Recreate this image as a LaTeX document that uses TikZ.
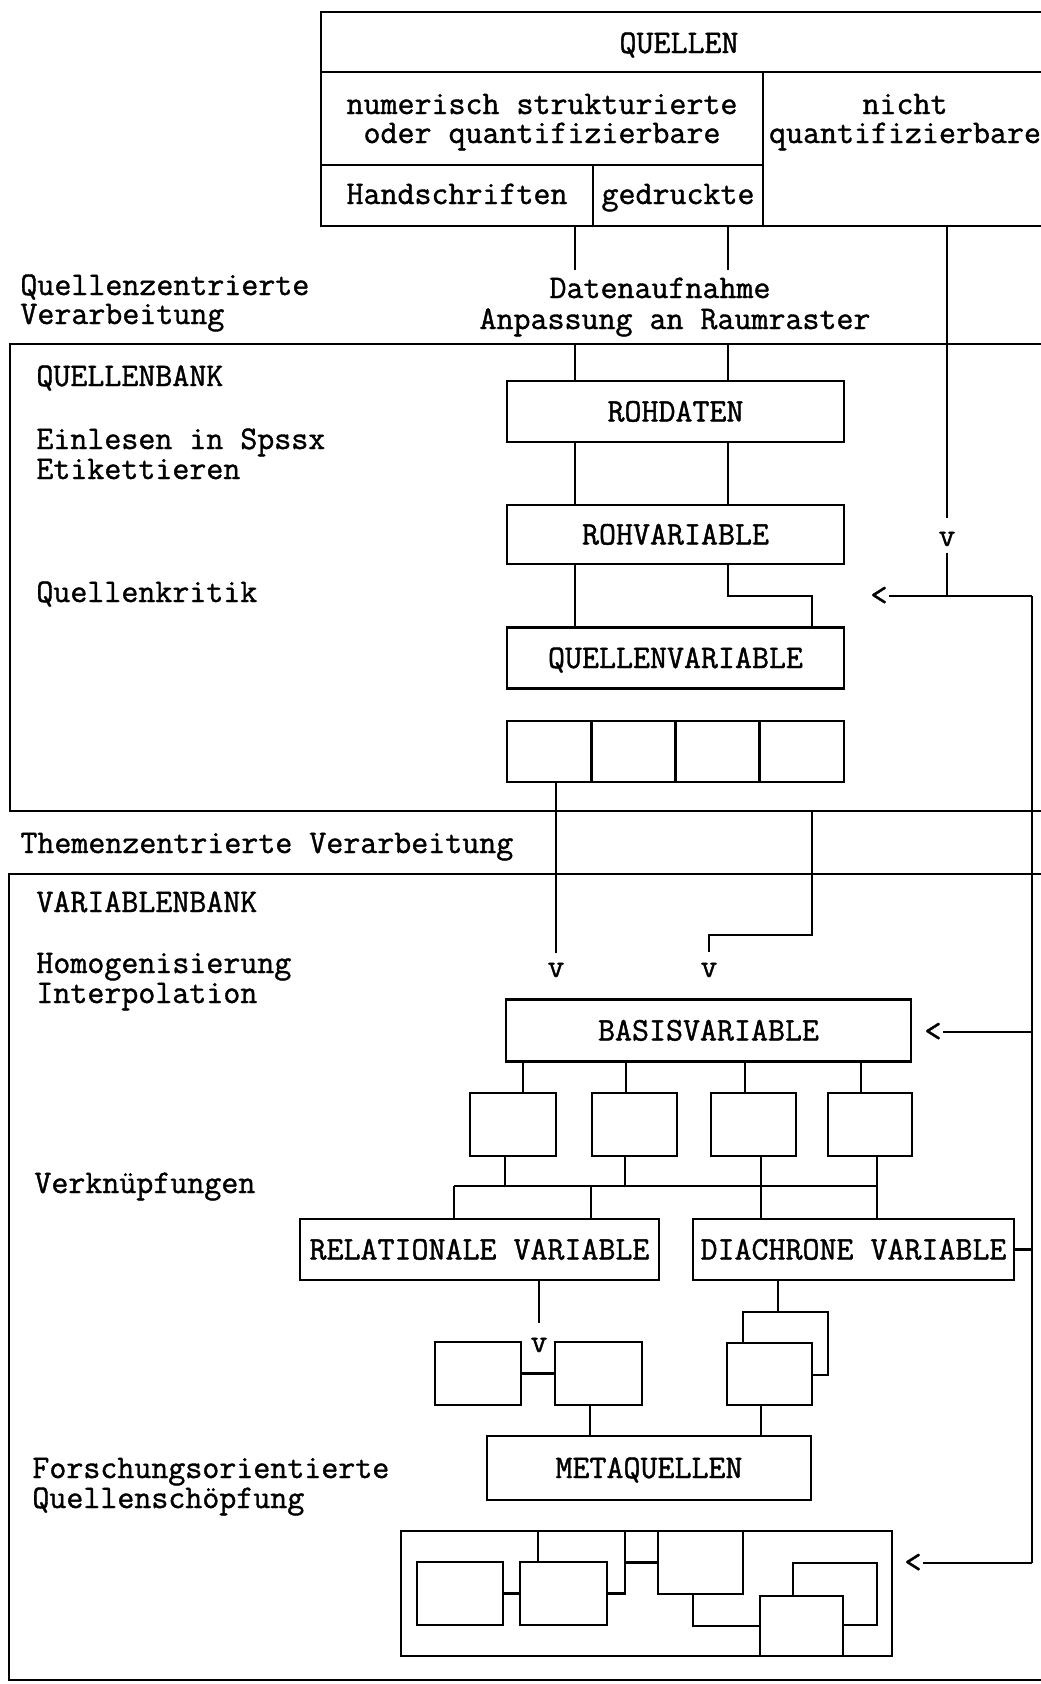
\documentclass[tikz,border=0pt]{standalone}
\usepackage{fontspec}
\usetikzlibrary{calc}
\newfontfamily\diatt{lmmono12-regular.otf}[FakeBold=1.2]
\newcommand{\diafont}{\diatt\fontsize{33}{30}\selectfont}
\begin{document}
\begin{tikzpicture}[x=1pt,y=-1pt,line width=2.8pt,
  lbl/.style={font=\diafont,inner sep=0pt,anchor=base west,text height=22pt,text depth=6pt},
  ctr/.style={font=\diafont,inner sep=0pt,anchor=base,text height=22pt,text depth=6pt},
  cell/.style={draw,rectangle,inner sep=0pt,outer sep=0pt},
  box/.style={draw,fill=white,rectangle,inner sep=0pt,outer sep=0pt,font=\diafont,text height=20pt,text depth=0pt},
  sym/.style={font=\diafont,inner sep=0pt}]
\useasboundingbox (0,0) rectangle (1041,1684);
\fill[white] (0,0) rectangle (1041,1684);
\clip (0,0) rectangle (1041,1684);

% ---------- QUELLEN table ----------
\node[cell,minimum width=739pt,minimum height=60pt] (qtop) at (690.5,42) {};
\node[ctr] (tquellen) at (679,53) {QUELLEN};
\node[cell,minimum width=442pt,minimum height=93pt] (num) at (542,118.5) {};
\node[ctr] (tnum1) at (542,114) {numerisch strukturierte};
\node[ctr] (tnum2) at (542,143) {oder quantifizierbare};
\node[cell,minimum width=297pt,minimum height=154pt] (nicht) at (911.5,149) {};
\node[ctr] (tnicht1) at (905,114) {nicht};
\node[ctr] (tnicht2) at (905,143) {quantifizierbare};
\node[cell,minimum width=272pt,minimum height=61pt] (hand) at (457,195.5) {};
\node[ctr] (thand) at (457,204) {Handschriften};
\node[cell,minimum width=170pt,minimum height=61pt] (ged) at (678,195.5) {};
\node[ctr] (tged) at (678,204) {gedruckte};

\coordinate (ea) at (575,270);
\coordinate (eb) at (728,270);
\draw (hand.south -| ea) -- (ea);
\draw (ged.south -| eb) -- (eb);

\node[lbl] (lq1) at (19,295) {Quellenzentrierte};
\node[lbl] (lq2) at (19,324) {Verarbeitung};
\node[ctr] (ld1) at (660,298) {Datenaufnahme};
\node[ctr] (ld2) at (675,329) {Anpassung an Raumraster};

% ---------- QUELLENBANK ----------
\node[cell,minimum width=1050pt,minimum height=467pt] (qb) at (535,577.5) {};
\node[lbl] (lqb) at (35,386) {QUELLENBANK};
\node[lbl] (lein) at (35,449) {Einlesen in Spssx};
\node[lbl] (leti) at (35,479) {Etikettieren};
\node[lbl] (lkrit) at (35,602) {Quellenkritik};

\node[box,minimum width=337pt,minimum height=61pt] (rohd) at (675.5,411.5) {ROHDATEN};
\node[box,minimum width=337pt,minimum height=59pt] (rohv) at (675.5,534.5) {ROHVARIABLE};
\node[box,minimum width=337pt,minimum height=61pt] (qv) at (675.5,658) {QUELLENVARIABLE};
\foreach \i/\x in {1/549.125,2/633.375,3/717.625,4/801.875}
  \node[box,minimum width=84.25pt,minimum height=61pt] (c\i) at (\x,751.5) {};

\draw (qb.north -| ea) -- (rohd.north -| ea);
\draw (qb.north -| eb) -- (rohd.north -| eb);
\draw (rohd.south -| ea) -- (rohv.north -| ea);
\draw (rohd.south -| eb) -- (rohv.north -| eb);
\draw (rohv.south -| ea) -- (qv.north -| ea);
\coordinate (j2) at (812,596);
\draw (rohv.south -| eb) |- (j2) -- (qv.north -| j2);

% feedback from "nicht quantifizierbare"
\node[sym] (vq) at (947,539) {v};
\draw (nicht.south -| vq) -- ([yshift=12pt]vq.north);
\coordinate (j1) at (947,596);
\coordinate (jr) at (1032,596);
\draw ([yshift=-5pt]vq.south) -- (j1);
\node[sym] (lt1) at (879,596) {<};
\draw (jr) -- (lt1.east);
\coordinate (fb) at (1032,1563);
\draw (jr) -- (fb);

\node[lbl] (lthem) at (19,853) {Themenzentrierte Verarbeitung};

% ---------- VARIABLENBANK ----------
\node[cell,minimum width=1051pt,minimum height=806pt] (vb) at (534.5,1277) {};
\node[lbl] (lvb) at (35,912) {VARIABLENBANK};
\node[lbl] (lhom) at (35,973) {Homogenisierung};
\node[lbl] (lint) at (35,1003) {Interpolation};
\node[lbl] (lverk) at (33,1193) {Verknüpfungen};
\node[lbl] (lfor1) at (31,1478) {Forschungsorientierte};
\node[lbl] (lfor2) at (31,1508) {Quellenschöpfung};

\node[sym] (v1) at (556,970) {v};
\node[sym] (v2) at (709,970) {v};
\draw (c1.south -| v1) -- ([yshift=8pt]v1.north);
\coordinate (k1) at (812,935);
\draw (qb.south -| k1) -- (k1) -| ([yshift=9pt]v2.north);

\node[box,minimum width=405pt,minimum height=62pt] (basis) at (708.5,1030.5) {BASISVARIABLE};
\node[sym] (lt2) at (933,1032) {<};
\draw (lt2.east -| jr) -- (lt2.east);

\node[box,minimum width=86pt,minimum height=63pt] (s1) at (513,1124.5) {};
\node[box,minimum width=85pt,minimum height=63pt] (s2) at (634.5,1124.5) {};
\node[box,minimum width=85pt,minimum height=63pt] (s3) at (753.5,1124.5) {};
\node[box,minimum width=84pt,minimum height=63pt] (s4) at (870,1124.5) {};
\foreach \n/\x in {s1/523,s2/626,s3/745,s4/861}
  \draw (basis.south -| \x,0) -- (\n.north -| \x,0);

\node[box,minimum width=359pt,minimum height=61pt] (rel) at (479.5,1249.5) {RELATIONALE VARIABLE};
\node[box,minimum width=321pt,minimum height=61pt] (dia) at (853.5,1249.5) {DIACHRONE VARIABLE};
\coordinate (hl) at (454,1186);
\coordinate (hr) at (877,1186);
\draw (hl) -- (hr);
\draw (s1.south -| 505,0) -- (hl -| 505,0);
\draw (s2.south -| 625,0) -- (hl -| 625,0);
\draw (hl) -- (rel.north -| hl);
\draw (hl -| 591,0) -- (rel.north -| 591,0);
\draw (s3.south -| 761,0) -- (dia.north -| 761,0);
\draw (s4.south -| hr) -- (dia.north -| hr);
\draw (dia.east) -- (dia.east -| jr);

\node[sym] (v3) at (539,1345) {v};
\draw (rel.south -| v3) -- ([yshift=13pt]v3.north);
\node[box,minimum width=86pt,minimum height=63pt] (ma) at (478,1373.5) {};
\node[box,minimum width=87pt,minimum height=63pt] (mb) at (598.5,1373.5) {};
\draw (ma.east) -- (mb.west);
\node[box,minimum width=85pt,minimum height=63pt] (mc) at (785.5,1343.5) {};
\node[box,minimum width=85pt,minimum height=62pt] (md) at (769.5,1374) {};
\draw (dia.south -| 778,0) -- (mc.north -| 778,0);
\node[box,minimum width=324pt,minimum height=64pt] (meta) at (649,1468) {METAQUELLEN};
\draw (mb.south -| 590,0) -- (meta.north -| 590,0);
\draw (md.south -| 761,0) -- (meta.north -| 761,0);

% ---------- bottom group ----------
\node[cell,minimum width=491pt,minimum height=125pt] (ob) at (646.5,1593.5) {};
\node[box,minimum width=86pt,minimum height=63pt] (b1) at (460,1593.5) {};
\node[box,minimum width=87pt,minimum height=63pt] (b2) at (563.5,1593.5) {};
\node[box,minimum width=85pt,minimum height=63pt] (b3) at (700.5,1562.5) {};
\node[box,minimum width=84pt,minimum height=62pt] (b5) at (835,1594) {};
\node[box,minimum width=83pt,minimum height=60pt] (b4) at (801.5,1626) {};
\draw (ob.north -| 538,0) -- (b2.north -| 538,0);
\draw (b1.east) -- (b2.west);
\draw (b2.east) -| (ob.north -| 625,0);
\draw (b3.west -| 625,0) -- (b3.west);
\draw (b3.south -| 693,0) |- (b4.west);
\node[sym] (lt3) at (913,1563) {<};
\draw (fb) -- (lt3.east);
\end{tikzpicture}
\end{document}
